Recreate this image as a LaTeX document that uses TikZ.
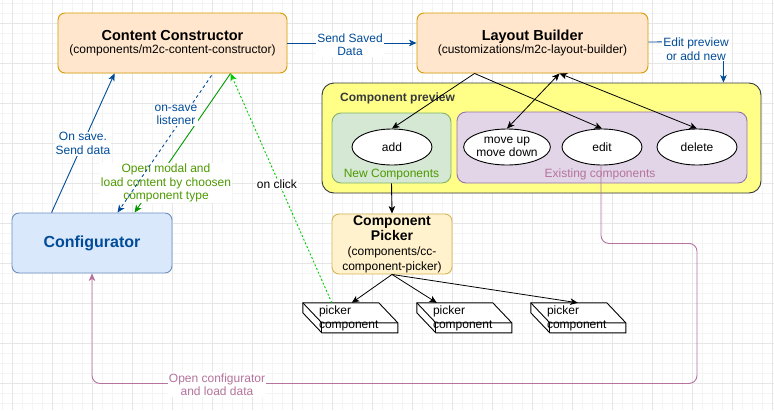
\documentclass[tikz,border=0pt]{standalone}
\usepackage{fontspec}
\setmainfont{Liberation Sans}
\usetikzlibrary{arrows.meta,shapes.geometric,calc}
\definecolor{ccfill}{HTML}{FFE6CC}
\definecolor{ccdraw}{HTML}{D79B00}
\definecolor{cfgfill}{HTML}{DAE8FC}
\definecolor{cfgdraw}{HTML}{6C8EBF}
\definecolor{pkfill}{HTML}{FFF2CC}
\definecolor{pkdraw}{HTML}{D6B656}
\definecolor{yfill}{HTML}{FFFF88}
\definecolor{ydraw}{HTML}{36393D}
\definecolor{gfill}{HTML}{D5E8D4}
\definecolor{gdraw}{HTML}{82B366}
\definecolor{pfill}{HTML}{E1D5E7}
\definecolor{pdraw}{HTML}{9673A6}
\definecolor{ptext}{HTML}{B5739D}
\definecolor{gtext}{HTML}{4D9900}
\definecolor{bline}{HTML}{004C99}
\definecolor{gline}{HTML}{009900}
\definecolor{gdot}{HTML}{00CC00}
\definecolor{gridmin}{HTML}{F4F4F4}
\definecolor{gridmaj}{HTML}{E6E6E6}
\newcommand{\pkbold}[1]{{\bfseries\fontsize{14}{15}\selectfont #1}}
\newcommand{\pknorm}[1]{{\fontsize{12}{15}\selectfont #1}}
\begin{document}
\begin{tikzpicture}[x=1pt,y=-1pt,
  txt/.style={font=\fontsize{12}{13.5}\selectfont, align=center, inner sep=1pt},
  lbl/.style={txt, fill=white},
  box/.style={draw, rounded corners=7pt, line width=0.9pt, inner sep=0pt, align=center},
  oval/.style={ellipse, draw, fill=white, line width=0.9pt, minimum width=80pt, minimum height=36pt, inner sep=0pt, align=center, font=\fontsize{12}{13.5}\selectfont},
  tip/.style={-{Stealth[length=7.5pt,width=6.5pt,inset=2pt]}},
  dtip/.style={{Stealth[length=7.5pt,width=6.5pt,inset=2pt]}-{Stealth[length=7.5pt,width=6.5pt,inset=2pt]}},
  cubebox/.style={minimum width=95pt, minimum height=30pt, inner sep=0pt},
  cubeline/.style={draw=black, line width=0.9pt}
]
\useasboundingbox (0,0) rectangle (774,410);
\fill[white] (0,0) rectangle (774,410);
\foreach \x in {2,12,...,772} \draw[gridmin, line width=0.5pt] (\x,0) -- (\x,410);
\foreach \y in {3,13,...,403} \draw[gridmin, line width=0.5pt] (0,\y) -- (774,\y);
\foreach \x in {12,52,...,772} \draw[gridmaj, line width=0.7pt] (\x,0) -- (\x,410);
\foreach \y in {23,63,...,383} \draw[gridmaj, line width=0.7pt] (0,\y) -- (774,\y);

% main boxes
\node[box, fill=ccfill, draw=ccdraw, minimum width=229pt, minimum height=60pt] (cc) at (172.5,43)
  {{\bfseries\fontsize{14.5}{15}\selectfont Content Constructor}\\[1pt]{\fontsize{12}{13.5}\selectfont (components/m2c-content-constructor)}};
\node[box, fill=ccfill, draw=ccdraw, minimum width=231pt, minimum height=60pt] (lb) at (532.5,43)
  {{\bfseries\fontsize{14.5}{15}\selectfont Layout Builder}\\[1pt]{\fontsize{12}{13.5}\selectfont (customizations/m2c-layout-builder)}};
\node[box, fill=cfgfill, draw=cfgdraw, minimum width=160pt, minimum height=60pt, text=bline] (cfg) at (92,243)
  {\bfseries\fontsize{16}{18}\selectfont Configurator};

% component preview container
\node[box, fill=yfill, draw=ydraw, rounded corners=12pt, minimum width=439pt, minimum height=110pt] (prev) at (541.5,138) {};
\node[anchor=west, inner sep=0pt, text=ydraw, font=\bfseries\fontsize{12}{13.5}\selectfont] (prevt) at (340,98) {Component preview};
\node[box, fill=gfill, draw=gdraw, rounded corners=9pt, minimum width=119pt, minimum height=70pt] (newc) at (391.5,148) {};
\node[box, fill=pfill, draw=pdraw, rounded corners=9pt, minimum width=290pt, minimum height=71pt] (exist) at (602,147.5) {};
\node[txt, text=gtext] (newct) at (391.5,174.5) {New Components};
\node[txt, text=ptext] (existt) at (600,174.5) {Existing components};

\node[oval] (add) at (392,147) {add};
\node[oval] (mv) at (507,147) {move up\\move down};
\node[oval] (edit) at (602,147) {edit};
\node[oval] (del) at (697,147) {delete};

% component picker
\node[box, fill=pkfill, draw=pkdraw, minimum width=120pt, minimum height=60pt, font=\fontsize{12}{15}\selectfont] (pick) at (392,244)
  {\pkbold{Component}\\\pkbold{Picker}\\\pknorm{(components/cc-}\\\pknorm{component-picker)}};

% picker components (cubes)
\foreach \i/\xx in {1/350.5, 2/464.5, 3/578.5} {
  \node[cubebox] (pc\i) at (\xx,318) {};
  \filldraw[fill=white, cubeline] (pc\i.north west) -- ++(76,0) -- ++(19,20) -- ++(0,10) -- ++(-76,0) -- ++(-19,-20) -- cycle;
  \draw[cubeline] (pc\i.north west) -- ++(19,20) -- ++(76,0);
  \draw[cubeline] ($(pc\i.north west)+(19,20)$) -- ++(0,10);
  \node[anchor=west, align=left, inner sep=0pt, font=\fontsize{12}{14}\selectfont] (pct\i) at ($(pc\i.north west)+(16,16)$) {picker\\component};
}

% Send saved data
\draw[bline, line width=0.9pt, tip] (cc.east) -- (lb.west);
\node[lbl, text=bline] (l1) at (350,44.5) {Send Saved\\Data};

% Edit preview or add new
\draw[bline, line width=0.9pt, tip] ($(lb.east)+(0,-1)$) -- ($(prev.north east)+(-38,-41)$) -- ($(prev.north east)+(-38,0)$);
\node[lbl, text=bline] (l2) at (696,49) {Edit preview\\or add new};

% LB to preview elements
\draw[black, line width=0.8pt, tip] ($(lb.south west)+(58,0)$) -- (add.north);
\draw[black, line width=0.8pt, tip] ($(lb.south west)+(58,0)$) -- (edit.north);
\draw[black, line width=0.8pt, dtip] (mv.north) -- ($(lb.south west)+(143,0)$);
\draw[black, line width=0.8pt, dtip] ($(lb.south west)+(143,0)$) -- (del.north);

% new components -> picker
\draw[black, line width=0.9pt, tip] (newc.south) -- (pick.north);
% picker -> picker components
\draw[black, line width=0.8pt, tip] (pick.south) -- ($(pc1.north west)+(49,0)$);
\draw[black, line width=0.8pt, tip] (pick.south) -- ($(pc2.north west)+(20,0)$);
\draw[black, line width=0.8pt, tip] (pick.south) -- ($(pc3.north west)+(47,0)$);

% configurator -> content constructor (On save)
\draw[bline, line width=0.9pt, tip] ($(cfg.north west)+(40,0)$) -- ($(cc.south west)+(57,0)$);
\node[lbl, text=bline] (l3) at (83,143.5) {On save.\\Send data};

% green solid: open modal
\draw[gline, line width=0.9pt, tip] ($(cc.south west)+(173,0)$) -- ($(cfg.north west)+(123,0)$);
\node[lbl, text=gtext] (l4) at (166,183) {Open modal and\\load content by choosen\\component type};

% blue dashed: on-save listener
\draw[bline, line width=0.9pt, dash pattern=on 3pt off 3pt, tip] ($(cc.south west)+(154,2)$) -- ($(cfg.north west)+(106,0)$);
\node[lbl, text=bline] (l5) at (176,115) {on-save\\listener};

% green dotted: on click
\draw[gdot, line width=0.9pt, dash pattern=on 2pt off 2pt, tip] ($(pc1.north west)+(29,0)$) -- ($(cc.south west)+(173,0)$);
\node[lbl, text=black] (l6) at (277,184) {on click};

% edit -> configurator
\draw[ptext, line width=0.9pt, rounded corners=8pt, tip] ($(edit.south)+(-1,0)$) -- ($(edit.south)+(-1,78)$) -- ($(del.south)+(0,78)$) -- ($(del.south)+(0,218)$) -- ($(cfg.south)+(0,110)$) -- (cfg.south);
\node[lbl, text=ptext] (l7) at (217,384.5) {Open configurator\\and load data};
\end{tikzpicture}
\end{document}
